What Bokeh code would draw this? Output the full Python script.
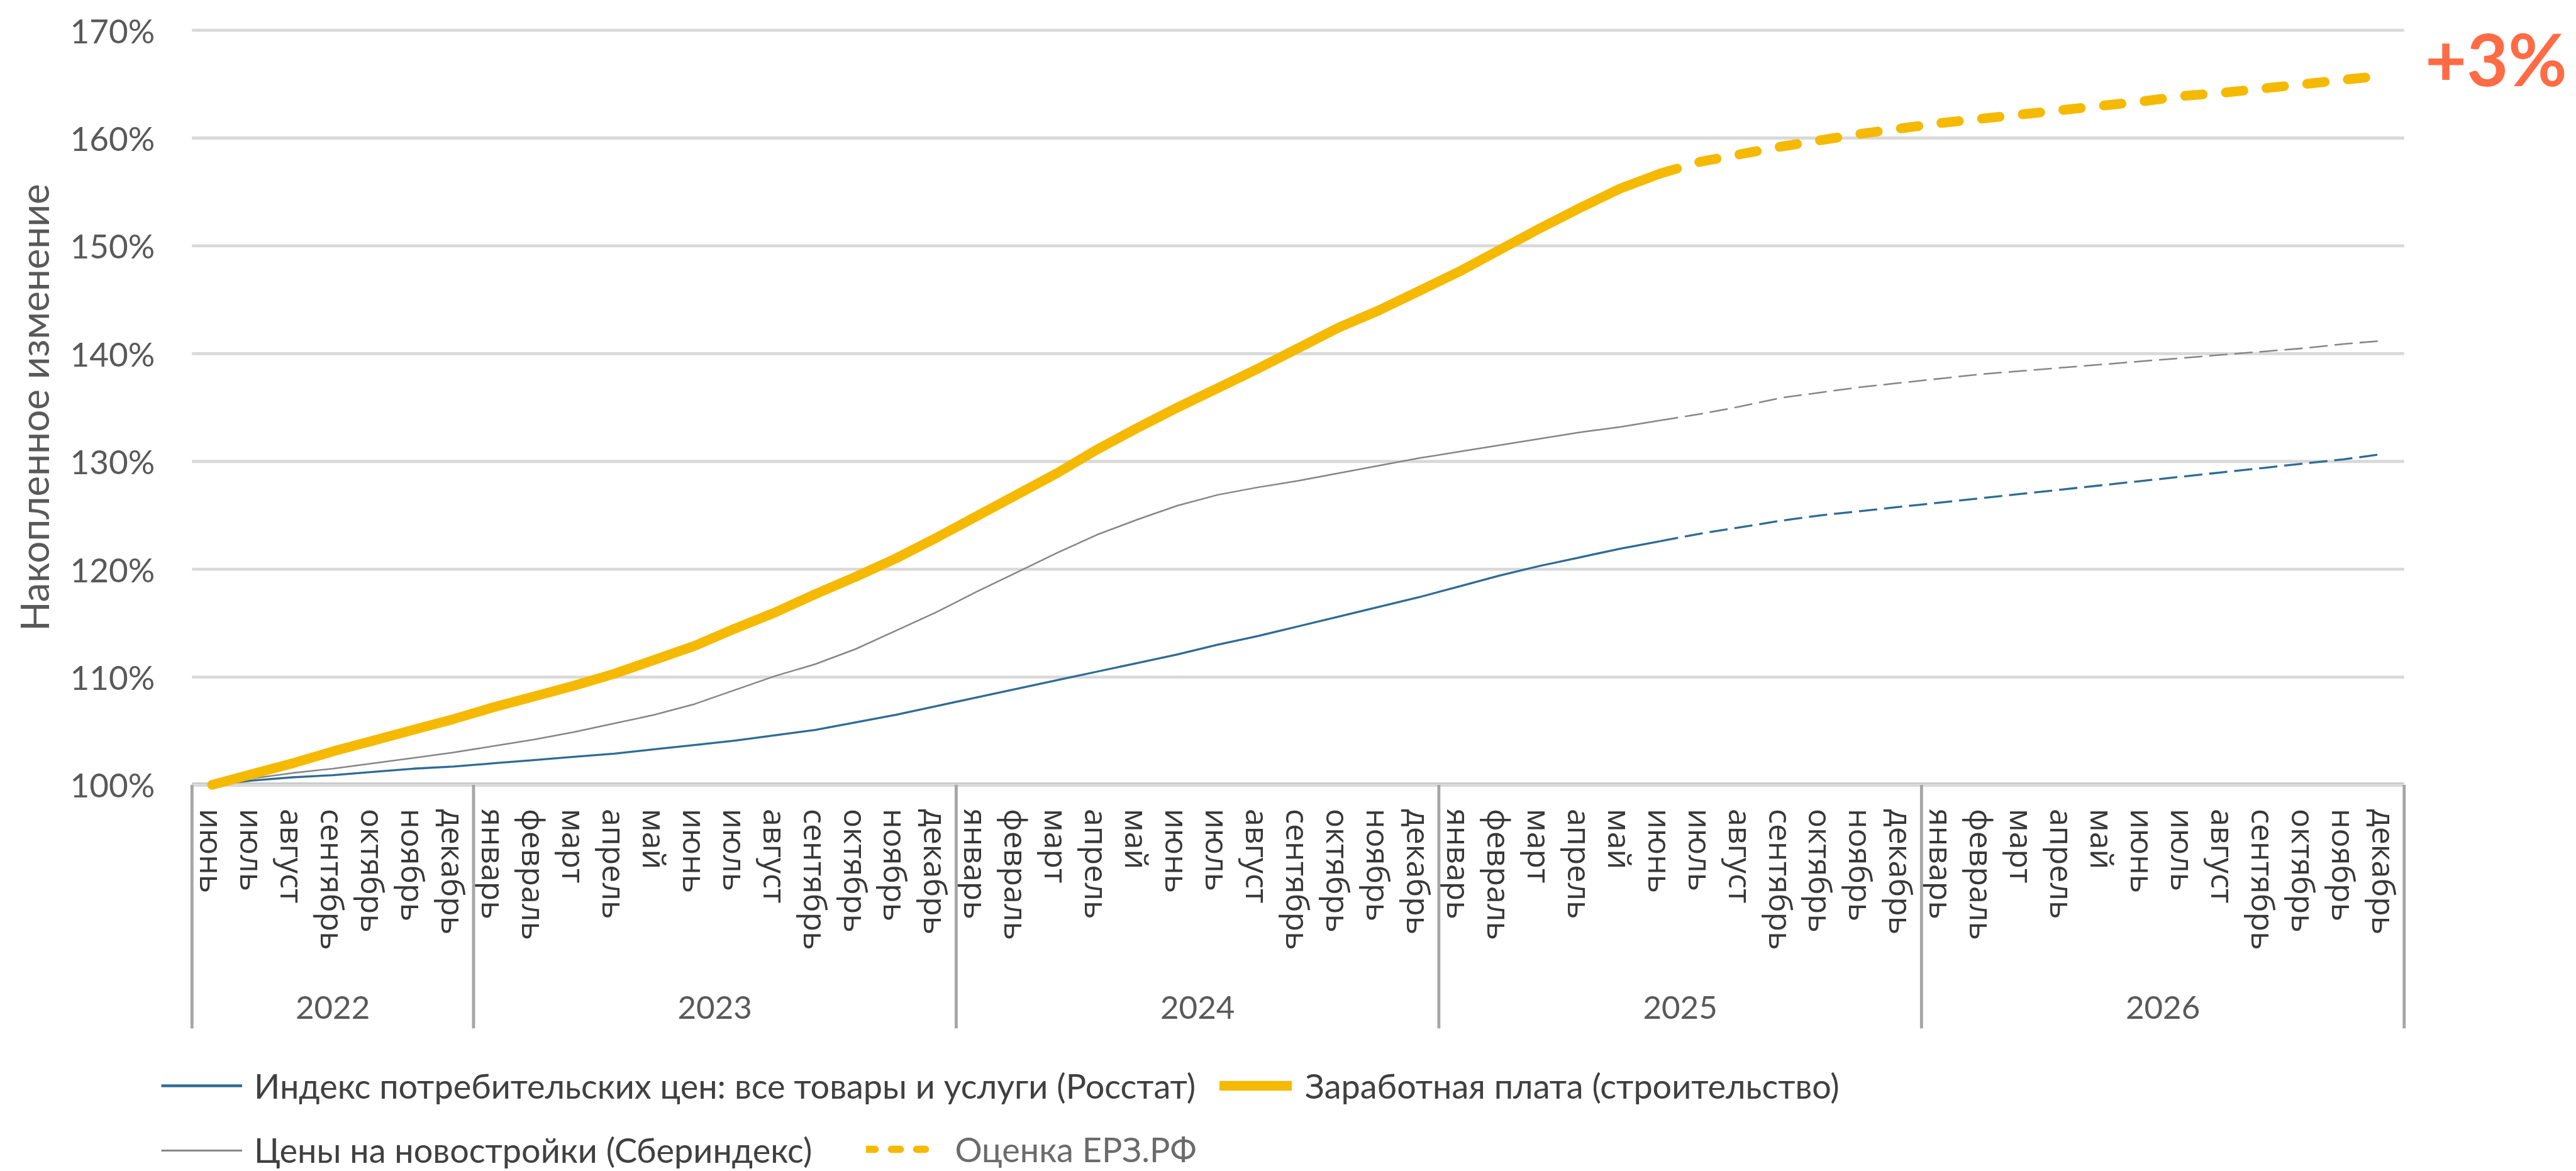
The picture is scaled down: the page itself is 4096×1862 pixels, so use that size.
from bokeh.plotting import figure
from bokeh.models import Range1d, LinearAxis, FixedTicker, Legend, LegendItem, Label
from bokeh.core.properties import value
from bokeh.embed import file_html
from bokeh.resources import INLINE

# ---------------- data ----------------
years = ["2022", "2023", "2024", "2025", "2026"]
months_2022 = ["июнь", "июль", "август", "сентябрь", "октябрь", "ноябрь", "декабрь"]
months_full = ["январь", "февраль", "март", "апрель", "май", "июнь",
               "июль", "август", "сентябрь", "октябрь", "ноябрь", "декабрь"]
months_by_year = [months_2022, months_full, months_full, months_full, months_full]
month_labels = [m for ms in months_by_year for m in ms]

# Индекс потребительских цен (Росстат), накопленное изменение, %
cpi = [100.0, 100.4, 100.7, 100.9, 101.2, 101.5, 101.7,
       102.0, 102.3, 102.6, 102.9, 103.3, 103.7, 104.1, 104.6, 105.1, 105.8, 106.5, 107.3,
       108.1, 108.9, 109.7, 110.5, 111.3, 112.1, 113.0, 113.8, 114.7, 115.6, 116.5, 117.4,
       118.4, 119.4, 120.3, 121.1, 121.9, 122.6, 123.3, 123.9, 124.5, 125.0, 125.4, 125.8,
       126.2, 126.6, 127.0, 127.4, 127.8, 128.2, 128.6, 129.0, 129.4, 129.8, 130.2, 130.7]
# Заработная плата (строительство)
wages = [100.0, 101.0, 102.0, 103.1, 104.1, 105.1, 106.1,
         107.2, 108.2, 109.2, 110.3, 111.6, 112.9, 114.5, 116.0, 117.7, 119.3, 121.0, 122.9,
         124.9, 126.9, 128.9, 131.1, 133.1, 135.0, 136.8, 138.6, 140.5, 142.4, 144.0, 145.8,
         147.6, 149.6, 151.6, 153.5, 155.3, 156.7, 157.8, 158.5, 159.2, 159.8, 160.4, 160.9,
         161.4, 161.8, 162.2, 162.6, 163.0, 163.4, 163.9, 164.2, 164.6, 165.0, 165.4, 165.8]
# Цены на новостройки (Сбериндекс)
new_builds = [100.0, 100.6, 101.1, 101.5, 102.0, 102.5, 103.0,
              103.6, 104.2, 104.9, 105.7, 106.5, 107.5, 108.8, 110.1, 111.2, 112.6, 114.3, 116.0,
              117.9, 119.7, 121.5, 123.2, 124.6, 125.9, 126.9, 127.6, 128.2, 128.9, 129.6, 130.3,
              130.9, 131.5, 132.1, 132.7, 133.2, 133.8, 134.4, 135.1, 135.9, 136.4, 136.9, 137.3,
              137.7, 138.1, 138.4, 138.7, 139.0, 139.3, 139.6, 139.9, 140.2, 140.5, 140.9, 141.2]

forecast_from = ("2025", "июнь")      # оценка ЕРЗ.РФ начиная с этой точки
y_ticks = [100, 110, 120, 130, 140, 150, 160, 170]
annotation = "+3%"

legend_labels = ["Индекс потребительских цен: все товары и услуги (Росстат)",
                 "Заработная плата (строительство)",
                 "Цены на новостройки (Сбериндекс)",
                 "Оценка ЕРЗ.РФ"]

# ---------------- geometry (reference px -> canvas) ----------------
REF_W, REF_H = 4220, 1918
W, H = 4096, 1862
S = 0.97
N = len(month_labels)
PX_MONTH = 3624 / N          # ref px per month band
PLOT_LEFT = 314              # ref px of left edge of plot area
Y100 = 1285                  # ref px of 100% line
PX_PCT = 1236 / 70           # ref px per 1%

x_start = -0.5 - PLOT_LEFT / PX_MONTH
x_end = x_start + REF_W / PX_MONTH
y_top = 100 + Y100 / PX_PCT
y_bottom = y_top - REF_H / PX_PCT
sep_bottom = 100 - (1684 - Y100) / PX_PCT

def px(v):
    return v * S

GOLD = "#F5B900"
BLUE = "#2F6C94"
GRAY = "#868686"
NAN = float("nan")

p = figure(width=W, height=H, x_range=Range1d(x_start, x_end), y_range=Range1d(y_bottom, y_top),
           x_axis_type=None, y_axis_type=None, toolbar_location=None, tools="",
           output_backend="svg", min_border=0, outline_line_color=None,
           background_fill_color="white", border_fill_color="white")
for g in p.grid:
    g.visible = False

xs = list(range(N))
x_lo, x_hi = -0.5, N - 0.5

# gridlines
p.segment(x0=[x_lo] * len(y_ticks), x1=[x_hi] * len(y_ticks), y0=y_ticks, y1=y_ticks,
          line_color="#D9D9D9", line_width=px(5))

# year separators
bounds = [x_lo]
for ms in months_by_year:
    bounds.append(bounds[-1] + len(ms))
p.segment(x0=bounds, x1=bounds, y0=[100] * len(bounds), y1=[sep_bottom] * len(bounds),
          line_color="#A6A6A6", line_width=px(5))

# split actual / forecast
yi = years.index(forecast_from[0])
k = sum(len(ms) for ms in months_by_year[:yi]) + months_by_year[yi].index(forecast_from[1])

dash_thin = "29 11"
p.line(xs[:k + 1], cpi[:k + 1], line_color=BLUE, line_width=px(3.4), line_join="round")
p.line(xs[k:], cpi[k:], line_color=BLUE, line_width=px(3.4), line_dash=dash_thin)
p.line(xs[:k + 1], new_builds[:k + 1], line_color=GRAY, line_width=px(2.6), line_join="round")
p.line(xs[k:], new_builds[k:], line_color=GRAY, line_width=px(2.6), line_dash=dash_thin)
p.line(xs[:k + 1], wages[:k + 1], line_color=GOLD, line_width=px(16), line_cap="round",
       line_join="round")
p.line(xs[k:], wages[k:], line_color=GOLD, line_width=px(16), line_cap="round",
       line_dash="28 37")

# axes
yaxis = LinearAxis(fixed_location=x_lo, bounds=(y_ticks[0], y_ticks[-1]),
                   ticker=FixedTicker(ticks=y_ticks),
                   major_label_overrides={t: f"{t}%" for t in y_ticks},
                   axis_line_color=None, major_tick_line_color=None, minor_tick_line_color=None,
                   major_label_standoff=int(px(55)),
                   major_label_text_font="Lato", major_label_text_font_size=f"{px(55):.0f}px",
                   major_label_text_color="#595959",
                   axis_label="Накопленное изменение", axis_label_standoff=18,
                   axis_label_text_font="Lato", axis_label_text_font_size=f"{px(64):.0f}px",
                   axis_label_text_font_style="normal", axis_label_text_color="#595959")
p.add_layout(yaxis, "left")

xaxis = LinearAxis(fixed_location=100, bounds=(x_lo, x_hi), ticker=FixedTicker(ticks=xs),
                   major_label_overrides={i: m for i, m in enumerate(month_labels)},
                   major_label_orientation="vertical",
                   axis_line_color="#A6A6A6", axis_line_width=px(6),
                   major_tick_line_color=None, minor_tick_line_color=None,
                   major_tick_out=0, major_tick_in=0,
                   major_label_standoff=int(px(40)),
                   major_label_text_font="Open Sans", major_label_text_font_size=f"{px(52):.0f}px",
                   major_label_text_color="#383838")
xaxis.level = "underlay"
p.add_layout(xaxis, "below")

year_centers = [(bounds[i] + bounds[i + 1]) / 2 for i in range(len(years))]
yearaxis = LinearAxis(fixed_location=100, bounds=(x_lo, x_hi), ticker=FixedTicker(ticks=year_centers),
                      major_label_overrides={c: y for c, y in zip(year_centers, years)},
                      axis_line_color=None, major_tick_line_color=None, minor_tick_line_color=None,
                      major_tick_out=0, major_tick_in=0,
                      major_label_standoff=int(px(347)),
                      major_label_text_font="Lato", major_label_text_font_size=f"{px(53):.0f}px",
                      major_label_text_color="#595959")
p.add_layout(yearaxis, "below")

# legend renderers (carry only the legend glyph style; their single point is empty)
lg_cpi = p.line([NAN], [NAN], line_color=BLUE, line_width=px(4.5))
lg_w = p.line([NAN], [NAN], line_color=GOLD, line_width=px(16), line_cap="round")
lg_nb = p.line([NAN], [NAN], line_color=GRAY, line_width=px(3))
lg_f = p.line([NAN], [NAN], line_color=GOLD, line_width=px(12), line_cap="round", line_dash="14 26")

LH = 66
legend_specs = [
    # label, renderer, glyph x, glyph width, standoff, row y (ref px), color
    (legend_labels[0], lg_cpi, 264, 133, 20, 1778, "#404040"),
    (legend_labels[1], lg_w, 1999, 119, 22, 1778, "#404040"),
    (legend_labels[2], lg_nb, 264, 133, 20, 1884, "#404040"),
    (legend_labels[3], lg_f, 1420, 115, 31, 1882, "#6B6B6B"),
]
for lab, rend, gx, gw, so, ry, col in legend_specs:
    leg = Legend(items=[LegendItem(label=lab, renderers=[rend])],
                 location=(px(gx), H - ry * H / REF_H - LH / 2),
                 orientation="horizontal", glyph_width=int(px(gw)), glyph_height=LH,
                 label_standoff=int(px(so)), label_height=LH, padding=0, margin=0, spacing=0,
                 border_line_color=None, background_fill_alpha=0,
                 label_text_font="Lato", label_text_font_size=f"{px(56):.0f}px",
                 label_text_color=col)
    p.add_layout(leg)

# "+3%" annotation tied to the last wage value
last_x_ref = PLOT_LEFT + PX_MONTH * (N - 0.5)
last_y_ref = Y100 - (wages[-1] - 100) * PX_PCT
p.add_layout(Label(x=xs[-1], y=wages[-1], x_offset=px(4205 - last_x_ref), y_offset=px(last_y_ref - 95),
                   text=annotation, text_align="right", text_baseline="middle",
                   text_font="Lato", text_font_style="bold", text_font_size=f"{px(118):.0f}px",
                   text_color="#FF6B45"))

open("out.html", "w").write(file_html(p, INLINE))
